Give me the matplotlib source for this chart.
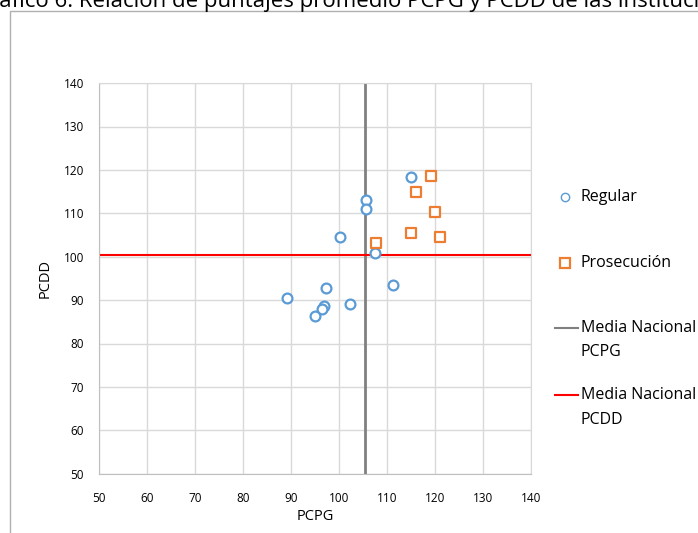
import matplotlib
matplotlib.use("Agg")
import matplotlib.pyplot as plt
from matplotlib.lines import Line2D
from matplotlib.patches import Rectangle

# PCPG / PCDD promedio por institucion
regular_pcpg = [114.9, 105.5, 105.6, 100.2, 107.4, 111.2, 97.2, 89.0, 102.2, 96.75, 96.3, 94.9]
regular_pcdd = [118.4, 113.1, 111.0, 104.5, 100.8, 93.4, 92.9, 90.4, 89.2, 88.6, 87.9, 86.4]

prosec_pcpg = [119.2, 115.9, 120.0, 115.0, 121.0, 107.7]
prosec_pcdd = [118.7, 114.8, 110.3, 105.4, 104.5, 103.1]

media_pcpg = 105.35
media_pcdd = 100.3

ticks = list(range(50, 141, 10))

title = "Gráfico 6: Relación de puntajes promedio PCPG y PCDD de las instituciones"

BLUE = "#5b9bd5"
ORANGE = "#ed7d31"
GRAY = "#808080"
RED = "#ff0000"
FONT = ["Open Sans", "DejaVu Sans"]

plt.rcParams["font.family"] = FONT

W, H = 698, 533
fig = plt.figure(figsize=(W / 100, H / 100), dpi=100)

# chart frame (cut off at right/bottom like the screenshot)
fig.add_artist(Rectangle((10 / W, -0.2), 2.0, 1.2 - 11 / H, transform=fig.transFigure,
                         fill=False, edgecolor="#b0b0b0", lw=1.0))

# title, clipped at the top-left as in the screenshot
r = fig.canvas.get_renderer()
tmp = fig.text(0, 0, "Gr", fontsize=16)
gr_w = tmp.get_window_extent(renderer=r).width
tmp.remove()
fig.text(-(gr_w + 1) / W, 1 - 7.5 / H, title, fontsize=16, va="baseline", ha="left", color="#000000")

ax = fig.add_axes([99.3 / W, 1 - 473.7 / H, 432 / W, 390.6 / H])
ax.set_xlim(50, 140)
ax.set_ylim(50, 140)
ax.set_xticks(ticks)
ax.set_yticks(ticks)
ax.grid(True, color="#d9d9d9", lw=1.0)
ax.set_axisbelow(True)
for s in ax.spines.values():
    s.set_color("#d9d9d9")
ax.spines["left"].set_color("#bfbfbf")
ax.spines["bottom"].set_color("#bfbfbf")
ax.tick_params(length=0, labelsize=8.5, pad=13, colors="#000000")
ax.tick_params(axis="y", pad=11)

ax.axvline(media_pcpg, color=GRAY, lw=2.0, zorder=2)
ax.axhline(media_pcdd, color=RED, lw=1.5, zorder=2)

ax.scatter(regular_pcpg, regular_pcdd, s=50, marker="o", facecolors="white",
           edgecolors=BLUE, linewidths=1.6, zorder=3)
ax.scatter(prosec_pcpg, prosec_pcdd, s=48, marker="s", facecolors="white",
           edgecolors=ORANGE, linewidths=1.6, zorder=3)

ax.set_xlabel("PCPG", fontsize=10.5, labelpad=3)
ax.set_ylabel("PCDD", fontsize=10.5, labelpad=8)

# legend drawn at the right side, Excel style
leg_font = 11.5
tx = 581 / W
fig.add_artist(Line2D([565 / W], [1 - 197 / H], marker="o", markersize=6, markerfacecolor="white",
                      markeredgecolor=BLUE, markeredgewidth=1.0, transform=fig.transFigure))
fig.text(tx, 1 - 197 / H, "Regular", fontsize=leg_font, va="center")
fig.add_artist(Line2D([565 / W], [1 - 263 / H], marker="s", markersize=6.5, markerfacecolor="white",
                      markeredgecolor=ORANGE, markeredgewidth=1.6, transform=fig.transFigure))
fig.text(tx, 1 - 263 / H, "Prosecución", fontsize=leg_font, va="center")
fig.add_artist(Line2D([555 / W, 578 / W], [1 - 328 / H] * 2, color=GRAY, lw=1.5, transform=fig.transFigure))
fig.text(tx, 1 - 328 / H, "Media Nacional", fontsize=leg_font, va="center")
fig.text(tx, 1 - 352 / H, "PCPG", fontsize=leg_font, va="center")
fig.add_artist(Line2D([555 / W, 578 / W], [1 - 395 / H] * 2, color=RED, lw=1.5, transform=fig.transFigure))
fig.text(tx, 1 - 395 / H, "Media Nacional", fontsize=leg_font, va="center")
fig.text(tx, 1 - 420 / H, "PCDD", fontsize=leg_font, va="center")

fig.savefig("out.png", dpi=100)
